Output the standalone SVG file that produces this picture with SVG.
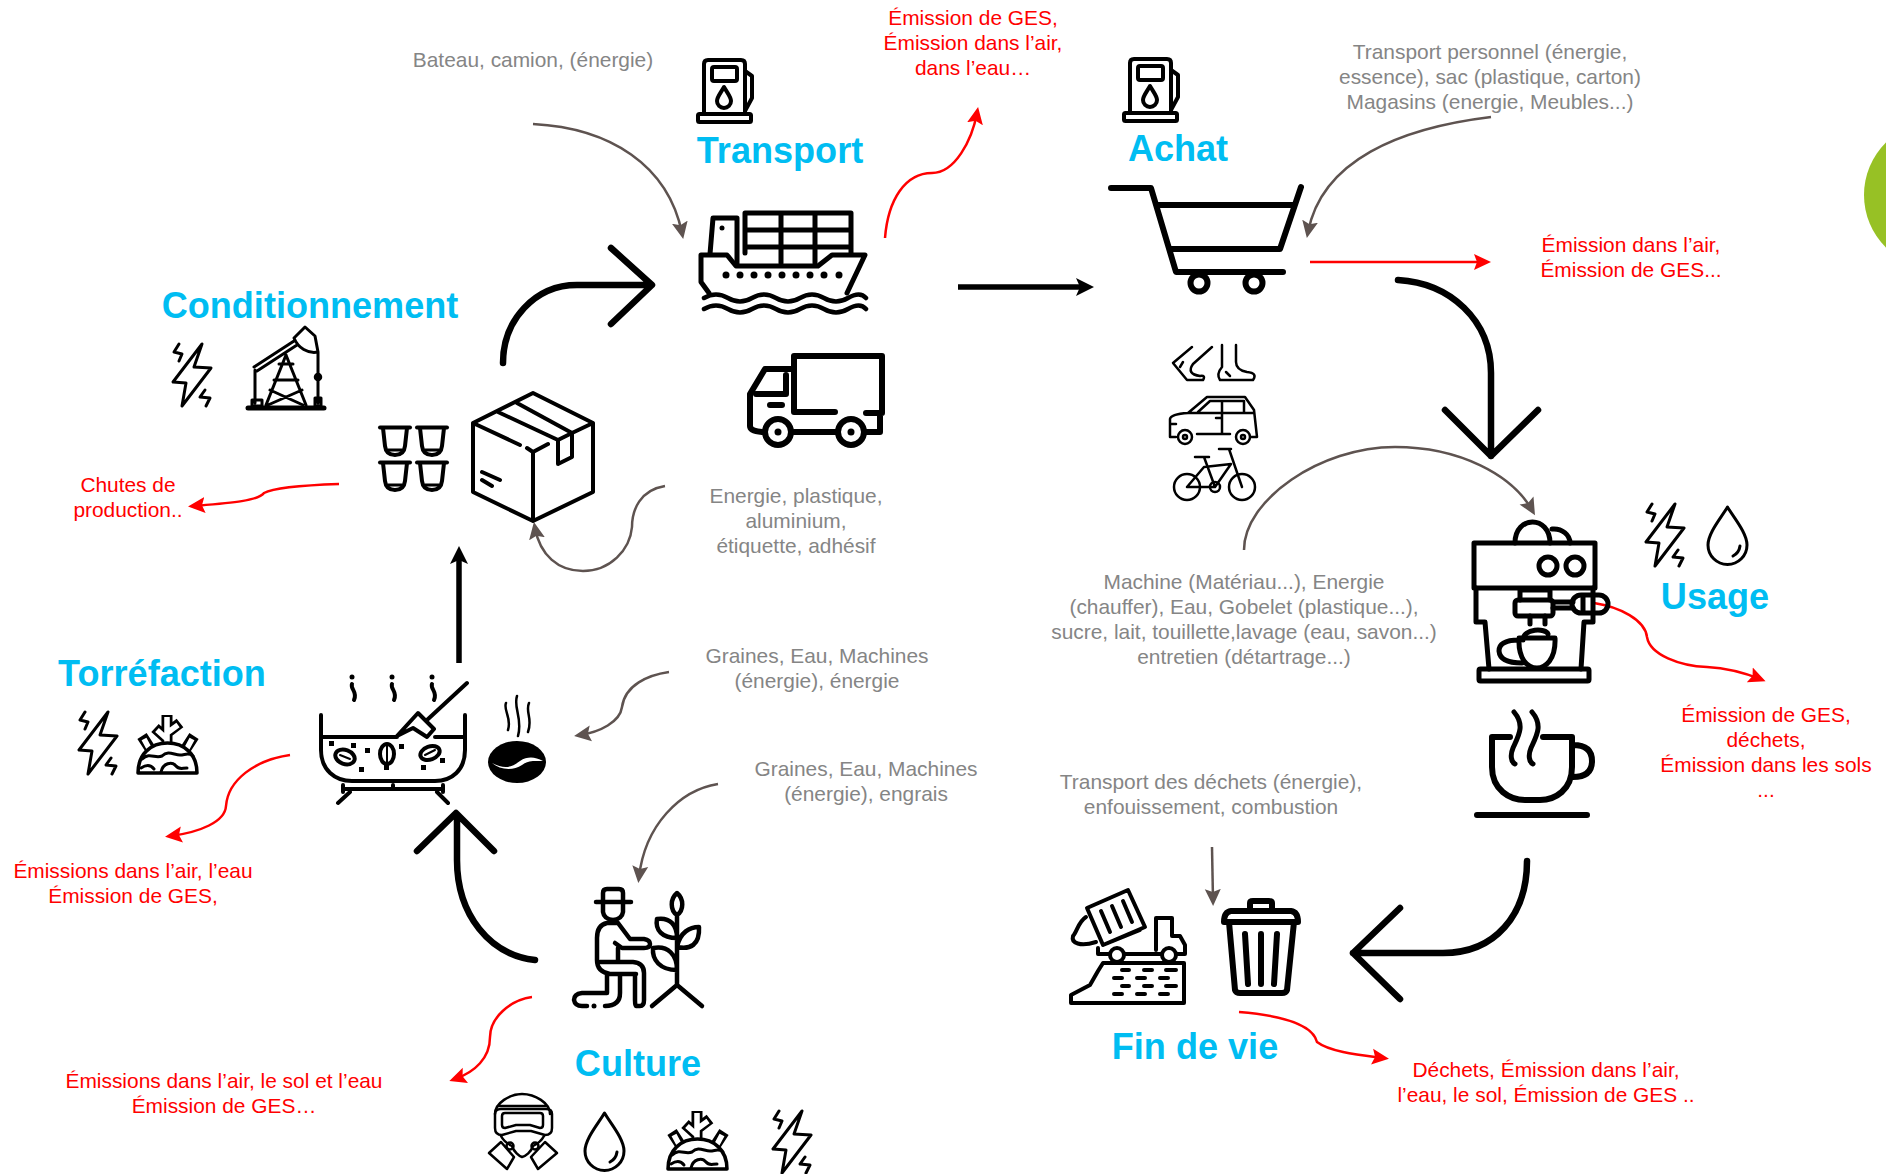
<svg xmlns="http://www.w3.org/2000/svg" width="1886" height="1174" viewBox="0 0 1886 1174">
<style>
text{font-family:"Liberation Sans",Arial,sans-serif;text-anchor:middle}
.g{font-size:20.9px;fill:#858585}
.r{font-size:20.9px;fill:#ff0000}
.h{font-size:36.1px;font-weight:700;fill:#00bdf2}
.i{fill:none;stroke:#000;stroke-linecap:round;stroke-linejoin:round}
.s6{stroke-width:6}.s5{stroke-width:5}.s4{stroke-width:4}.s3{stroke-width:3}.s25{stroke-width:2.5}
.big{fill:none;stroke:#000;stroke-width:6.5;stroke-linecap:round;stroke-linejoin:round}
.cg{fill:none;stroke:#5e5350;stroke-width:2.5}
.cr{fill:none;stroke:#ff0000;stroke-width:2.5}
.ck{fill:none;stroke:#000;stroke-width:5.5}
</style>
<defs>
<marker id="mg" markerUnits="userSpaceOnUse" markerWidth="18" markerHeight="18" refX="11" refY="8.5" orient="auto"><path d="M0 0.5L17 8.5L0 16.5L3 8.5Z" fill="#5e5350"/></marker>
<marker id="mr" markerUnits="userSpaceOnUse" markerWidth="18" markerHeight="18" refX="11" refY="8.5" orient="auto"><path d="M0 0.5L17 8.5L0 16.5L3 8.5Z" fill="#ff0000"/></marker>
<marker id="mk" markerUnits="userSpaceOnUse" markerWidth="20" markerHeight="20" refX="11" refY="9.5" orient="auto"><path d="M0 0.5L18 9.5L0 18.5L4 9.5Z" fill="#000"/></marker>
<g id="bolt" class="i s3"><path d="M30 1L1 39L14 40L10 63L39 25L22 24Z"/><path d="M7 1L2 9L10 11L7 18M33 47L28 54L38 55L34 63"/></g>
<g id="drop" class="i s3"><path d="M21.5 2C15 13 2 28 2 40A19.5 19.5 0 0 0 41 40C41 28 28 13 21.5 2Z"/><path d="M34 41Q33 48 27 51"/></g>
<g id="pump" class="i s4"><path d="M7 55V5Q7 1 11 1H44Q48 1 48 5V55"/><rect x="1" y="55" width="53" height="8" rx="1.5"/><rect x="15" y="8" width="25" height="14" rx="2"/><path d="M27 28C23 35 20 38 20 42A7 7 0 0 0 34 42C34 38 31 35 27 28Z"/><path d="M48 12L55 17V39L48 52"/></g>
<g id="planet" class="i">
<g style="stroke-width:11;stroke-linecap:butt"><path d="M31 34V3M31 21L44 11M31 27L19 16M15 38L6 24M49 38L58 24"/></g>
<g style="stroke:#fff;stroke-width:5.5;stroke-linecap:butt"><path d="M31 36V5M31 21L42 13M31 27L21 18M15 40L8 27M49 40L56 27"/></g>
<path d="M2 61C2 42 15 31 31.5 31C48 31 61 42 61 61Z" fill="#fff" style="stroke-width:3.5"/>
<path class="s3" d="M6 47C14 40 19 47 26 44C32 38 38 43 44 43C49 43 53 40 57 44M25 60C27 51 36 49 40 54C43 58 46 56 51 56M5 56C11 52 15 53 18 57"/></g>
<g id="capsule" class="i s4"><path d="M1 1.5H31"/><path d="M4 2L6 20Q7 29 16 29Q25 29 26 20L28 2"/><path d="M9 24H23" stroke-width="3"/></g>
</defs>
<rect width="1886" height="1174" fill="#fff"/>
<circle id="green-disc" cx="1938" cy="195" r="74" fill="#97c125"/>

<g id="connectors">
<path class="big" d="M503 363C503 320 535 285 577 285H651M611 248L652 285L611 324"/>
<path class="big" d="M535 960C490 955 457 915 457 860V815M417 851L456 813L494 851"/>
<path class="big" d="M1398 280C1450 283 1491 320 1491 373V456M1445 410L1491 456L1538 410"/>
<path class="big" d="M1527 861C1527 915 1495 953 1443 953H1353M1400 908L1353 953L1400 999"/>
<path class="ck" marker-end="url(#mk)" d="M958 287H1087"/>
<path class="ck" marker-end="url(#mk)" d="M459 663V553"/>
<path class="cg" marker-end="url(#mg)" d="M533 124C610 128 668 165 682 233"/>
<path class="cg" marker-end="url(#mg)" d="M1491 117C1400 128 1322 160 1308 232"/>
<path class="cg" marker-end="url(#mg)" d="M665 486C640 490 632 510 632 527C630 550 610 571 583 571C558 571 540 555 535 528"/>
<path class="cg" marker-end="url(#mg)" d="M669 672C648 675 625 685 622 707C620 722 600 732 580 735"/>
<path class="cg" marker-end="url(#mg)" d="M718 784C680 790 645 825 639 877"/>
<path class="cg" marker-end="url(#mg)" d="M1244 550C1244 500 1320 447 1395 447C1460 447 1512 475 1532 510"/>
<path class="cg" marker-end="url(#mg)" d="M1212 847L1213 900"/>
<path class="cr" marker-end="url(#mr)" d="M885 238C888 200 905 173 932 173C955 173 972 140 977 113"/>
<path class="cr" marker-end="url(#mr)" d="M339 484C310 485 275 487 264 493C258 501 230 503 194 506"/>
<path class="cr" marker-end="url(#mr)" d="M290 755C255 760 228 780 226 806C225 822 200 832 171 836"/>
<path class="cr" marker-end="url(#mr)" d="M532 997C510 1000 490 1018 490 1037C490 1058 475 1072 455 1079"/>
<path class="cr" marker-end="url(#mr)" d="M1310 262H1485"/>
<path class="cr" marker-end="url(#mr)" d="M1594 603C1620 607 1645 620 1647 637C1650 655 1680 666 1707 667C1725 668 1745 673 1760 679"/>
<path class="cr" marker-end="url(#mr)" d="M1239 1012C1275 1015 1312 1022 1317 1042C1330 1052 1360 1055 1383 1058"/>
</g>

<g id="achat">
<use href="#pump" x="1123" y="58"/>
<text class="h" x="1178" y="161">Achat</text>
<g class="i s6"><path d="M1111 188H1151L1176 272H1283M1158 205H1294M1301 187L1280 249H1170"/><circle cx="1199" cy="283" r="8.5" fill="#fff"/><circle cx="1254" cy="283" r="8.5" fill="#fff"/></g>
<g class="i s25"><path d="M1192 347L1173 363L1187 380H1203Q1206 375 1200 376Q1186 374 1193 364L1212 347M1183 362L1180 367M1222 345V367Q1216 374 1220 380H1253Q1258 373 1247 372Q1236 370 1236 362V345M1226 372L1230 376"/></g>
<g class="i s25"><path d="M1176 437H1170V419Q1171 414 1188 413L1207 397H1245L1254 410L1257 437H1251M1197 434H1230M1188 413H1253M1198 412L1210 401H1244L1244 412M1222 401V433M1216 418H1221M1170 424H1176"/><circle cx="1185" cy="437" r="7"/><circle cx="1243" cy="437" r="7"/><circle cx="1185" cy="437" r="2"/><circle cx="1243" cy="437" r="2"/></g>
<g class="i s25"><circle cx="1187" cy="487" r="13"/><circle cx="1242" cy="487" r="13"/><circle cx="1215" cy="487" r="5"/><path d="M1187 487H1215L1231 464L1204 467L1187 487M1204 457L1215 487M1229 449L1242 487M1195 457H1209M1219 449H1231"/></g>
</g>

<g id="transport">
<use href="#pump" x="697" y="59"/>
<text class="h" x="780" y="163">Transport</text>
<g class="i s5"><path d="M745 253V213H851V253M745 230H851M745 247H851M781 213V263M815 213V263M710 254L713 218H737V264"/><path d="M701 255H727L736 266H818L832 255H865L847 293M701 255V282L709 293"/><path d="M704 298Q716 291 728 298T752 298T776 298T800 298T824 298T848 298T866 298M704 309Q716 302 728 309T752 309T776 309T800 309T824 309T848 309T866 309" stroke-width="4.5"/></g>
<g fill="#000"><circle cx="722" cy="228" r="2.5"/><circle cx="726" cy="275" r="3.5"/><circle cx="740" cy="275" r="3.5"/><circle cx="754" cy="275" r="3.5"/><circle cx="768" cy="275" r="3.5"/><circle cx="782" cy="275" r="3.5"/><circle cx="796" cy="275" r="3.5"/><circle cx="810" cy="275" r="3.5"/><circle cx="824" cy="275" r="3.5"/><circle cx="839" cy="275" r="3.5"/></g>
<g class="i s6"><path d="M794 412V356H882V413H866M794 412H835M880 413V432H866M836 432H794M794 369H765L750 394V426Q750 431 762 432M756 394H786V375M770 405H782"/><circle cx="778" cy="432" r="13" fill="#fff"/><circle cx="851" cy="432" r="13" fill="#fff"/></g>
<circle cx="778" cy="432" r="3.5"/><circle cx="851" cy="432" r="3.5"/>
</g>

<g id="conditionnement">
<text class="h" x="310" y="318">Conditionnement</text>
<use href="#bolt" x="172" y="343"/>
<g class="i s25"><path d="M248 408H324" stroke-width="5"/><path d="M254 367L294 341M257 371L297 345M294 338L305 327L315 336L318 352C308 354 298 348 294 338ZM318 352V403M255 370V403M286 355L266 405M286 355L306 405M279 364H293M274 380H298M270 390L303 405M302 390L268 405M252 400H262V406H252ZM315 398H321V406H315Z" stroke-width="3"/><circle cx="318" cy="377" r="3" fill="#000"/></g>
<use href="#capsule" x="379" y="426"/><use href="#capsule" x="416" y="426"/><use href="#capsule" x="379" y="461"/><use href="#capsule" x="416" y="461"/>
<g class="i s4"><path d="M533 393L593 423V492L533 521L473 492V423ZM473 423L520 445M527 448L533 452L548 444M533 452V521M593 423L572 433M498 412L558 440M517 403L572 433M558 440V464L572 457V433M558 440L572 433M482 472L500 480M482 480L492 486"/></g>
</g>

<g id="torrefaction">
<text class="h" x="162" y="686">Torréfaction</text>
<use href="#bolt" x="78" y="711"/>
<use href="#planet" x="136" y="712"/>
<g class="i s4"><path d="M321 715V750C321 770 335 781 352 781H435C452 781 465 770 465 750V715M322 737H397M435 737H465M397 736L418 713L434 729L427 737L413 728L397 736ZM427 720L467 683M343 785V792M443 785V792M343 789H443M393 785V789M350 792L338 803M437 792L448 803"/>
<path d="M352 684C350 689 358 692 354 700M392 684C390 689 398 692 394 700M432 684C430 689 438 692 434 700" stroke-width="4"/>
<ellipse cx="345" cy="757" rx="10" ry="7" transform="rotate(20 345 757)"/><ellipse cx="387" cy="754" rx="7" ry="10"/><ellipse cx="430" cy="753" rx="10" ry="6.5" transform="rotate(-20 430 753)"/><path d="M340 755L350 759M387 746V762M425 755L435 750" stroke-width="2"/></g>
<g fill="#000"><circle cx="352" cy="677" r="2.5"/><circle cx="392" cy="677" r="2.5"/><circle cx="432" cy="677" r="2.5"/><rect x="329" y="741" width="5" height="5"/><rect x="351" y="743" width="5" height="5"/><rect x="365" y="748" width="5" height="5"/><rect x="399" y="744" width="5" height="5"/><rect x="359" y="767" width="5" height="5"/><rect x="384" y="765" width="5" height="5"/><rect x="421" y="765" width="5" height="5"/><rect x="440" y="758" width="5" height="5"/></g>
<path class="i s25" d="M506 703C503 710 512 718 508 730M517 696C513 708 523 718 518 736M529 703C525 712 533 718 528 732"/>
<ellipse cx="517" cy="762" rx="29" ry="21" fill="#000"/>
<path d="M492 763C505 770 512 767 520 761C528 756 535 757 543 761C535 761 528 760 522 765C513 771 500 770 492 763Z" fill="#fff"/>
</g>

<g id="culture">
<text class="h" x="638" y="1076">Culture</text>
<g class="i" style="stroke-width:4.5"><path d="M596 902H631M603 902V893Q603 889 607 889H619Q623 889 623 893V902M603 902V912Q604 919 613 920Q622 919 623 912V902"/>
<path d="M617 923H607Q597 925 597 938V960Q597 972 610 974H636M618 923L630 939H644Q650 940 650 944Q650 948 644 948H622L615 943M618 948V961M600 962H633Q644 963 644 973V1000Q644 1006 640 1006H636Q635 1006 635 1000V975M607 975V993H582Q574 994 574 1000Q575 1006 582 1006H587M605 1006Q620 1006 620 993V975"/>
<path d="M677 916V985M652 1006L677 985L702 1006M677 893C670 899 670 910 677 915C684 910 684 899 677 893ZM677 947C680 932 690 927 699 927C700 945 690 950 677 947ZM677 938C662 938 655 930 657 919C670 917 677 925 677 938ZM677 970C660 970 652 960 653 948C668 945 677 955 677 970Z"/></g>
<circle cx="594" cy="1006" r="2.5"/>
<g id="gas-mask" class="i s25"><path d="M495 1114C495 1103 510 1094 522 1094C535 1094 550 1103 550 1114M498 1106H547"/><path d="M495 1114Q495 1109 501 1109H546Q552 1109 552 1114V1128Q552 1135 545 1135L531 1131H516L502 1135Q495 1135 495 1128Z"/><path d="M502 1116Q502 1113 505 1113H540Q543 1113 543 1116V1125Q543 1128 540 1128L530 1125H516L505 1128Q502 1128 502 1125Z"/><path d="M501 1136C504 1142 508 1144 512 1146M544 1136C541 1142 537 1144 533 1146M512 1146C514 1152 519 1156 522 1157C526 1156 531 1152 533 1146M489 1153L501 1142L514 1157L507 1169ZM557 1153L545 1142L531 1157L538 1169Z"/><circle cx="510" cy="1146" r="3.5"/><circle cx="535" cy="1146" r="3.5"/></g>
<use href="#drop" x="583" y="1111"/>
<use href="#planet" x="666" y="1108"/>
<use href="#bolt" x="772" y="1110"/>
</g>

<g id="fin-de-vie">
<text class="h" x="1195" y="1059">Fin de vie</text>
<g class="i s4"><path d="M1087 908L1128 890L1145 927L1103 945ZM1101 911L1110 932M1112 906L1121 927M1123 901L1132 922M1086 917C1078 922 1077 932 1073 936C1071 943 1080 947 1096 942M1098 948V954H1185V945L1180 936H1172V918H1156V950M1103 945L1140 930"/><circle cx="1117" cy="955" r="7" fill="#fff"/><circle cx="1169" cy="955" r="7" fill="#fff"/><path d="M1103 963H1184V1003H1071V995L1090 985L1098 971ZM1122 970H1129M1144 970H1152M1166 970H1176M1114 978H1122M1137 978H1145M1160 978H1168M1122 986H1129M1144 986H1152M1166 986H1176M1114 994H1122M1137 994H1145M1160 994H1168"/></g>
<g class="i s6"><path d="M1250 911V903Q1250 901 1253 901H1269Q1272 901 1272 903V911"/><path d="M1231 911H1291Q1298 912 1298 922H1224Q1224 912 1231 911ZM1229 922L1235 990Q1236 993 1240 993H1282Q1286 993 1287 990L1294 922M1245 934L1248 984M1261 934V984M1277 934L1274 984"/></g>
</g>

<g id="usage">
<use href="#bolt" x="1645" y="503"/>
<use href="#drop" x="1706" y="505"/>
<text class="h" x="1715" y="609">Usage</text>
<g class="i s5"><rect x="1474" y="543" width="121" height="45"/><path d="M1515 543C1515 515 1550 515 1550 543M1552 529C1562 528 1570 535 1570 543"/><circle cx="1548" cy="566" r="9"/><circle cx="1575" cy="566" r="9"/><path d="M1476 588V622H1485L1489 669M1593 588V622H1584L1581 669"/><rect x="1479" y="669" width="110" height="12" rx="1.5"/><path d="M1520 590V600M1550 590V600M1520 590H1550"/><rect x="1515" y="600" width="38" height="16" rx="3"/><path d="M1553 602H1573M1553 608H1573"/><rect x="1572" y="595" width="36" height="18" rx="9"/><path d="M1583 596V612"/><path d="M1530 616V624M1545 616V624M1523 640C1523 628 1546 628 1548 634M1519 638H1555C1556 660 1545 668 1537 668C1528 668 1518 660 1519 638ZM1519 640Q1499 640 1499 651Q1500 663 1522 663"/></g>
<g class="i s6"><path d="M1492 737V767C1492 790 1510 800 1525 800H1540C1555 800 1572 790 1572 767V737H1543M1510 737H1492M1573 745Q1592 745 1592 761Q1592 777 1573 777M1477 815H1587"/><path d="M1514 712C1525 725 1519 735 1513 748C1510 755 1511 762 1515 764M1532 712C1543 725 1537 735 1531 748C1528 755 1529 762 1533 764" stroke-width="5"/></g>
</g>

<g id="labels">
<text class="g" x="533" y="67">Bateau, camion, (énergie)</text>
<text class="r" x="973" y="25">Émission de GES,</text>
<text class="r" x="973" y="50">Émission dans l’air,</text>
<text class="r" x="973" y="75">dans l’eau…</text>
<text class="g" x="1490" y="59">Transport personnel (énergie,</text>
<text class="g" x="1490" y="84">essence), sac (plastique, carton)</text>
<text class="g" x="1490" y="109">Magasins (energie, Meubles...)</text>
<text class="r" x="1631" y="252">Émission dans l’air,</text>
<text class="r" x="1631" y="277">Émission de GES...</text>
<text class="r" x="128" y="492">Chutes de</text>
<text class="r" x="128" y="517">production..</text>
<text class="g" x="796" y="503">Energie, plastique,</text>
<text class="g" x="796" y="528">aluminium,</text>
<text class="g" x="796" y="553">étiquette, adhésif</text>
<text class="g" x="817" y="663">Graines, Eau, Machines</text>
<text class="g" x="817" y="688">(énergie), énergie</text>
<text class="g" x="866" y="776">Graines, Eau, Machines</text>
<text class="g" x="866" y="801">(énergie), engrais</text>
<text class="g" x="1244" y="589">Machine (Matériau...), Energie</text>
<text class="g" x="1244" y="614">(chauffer), Eau, Gobelet (plastique...),</text>
<text class="g" x="1244" y="639">sucre, lait, touillette,lavage (eau, savon...)</text>
<text class="g" x="1244" y="664">entretien (détartrage...)</text>
<text class="g" x="1211" y="789">Transport des déchets (énergie),</text>
<text class="g" x="1211" y="814">enfouissement, combustion</text>
<text class="r" x="133" y="878">Émissions dans l’air, l’eau</text>
<text class="r" x="133" y="903">Émission de GES,</text>
<text class="r" x="224" y="1088">Émissions dans l’air, le sol et l’eau</text>
<text class="r" x="224" y="1113">Émission de GES…</text>
<text class="r" x="1766" y="722">Émission de GES,</text>
<text class="r" x="1766" y="747">déchets,</text>
<text class="r" x="1766" y="772">Émission dans les sols</text>
<text class="r" x="1766" y="797">...</text>
<text class="r" x="1546" y="1077">Déchets, Émission dans l’air,</text>
<text class="r" x="1546" y="1102">l’eau, le sol, Émission de GES ..</text>
</g>
</svg>
